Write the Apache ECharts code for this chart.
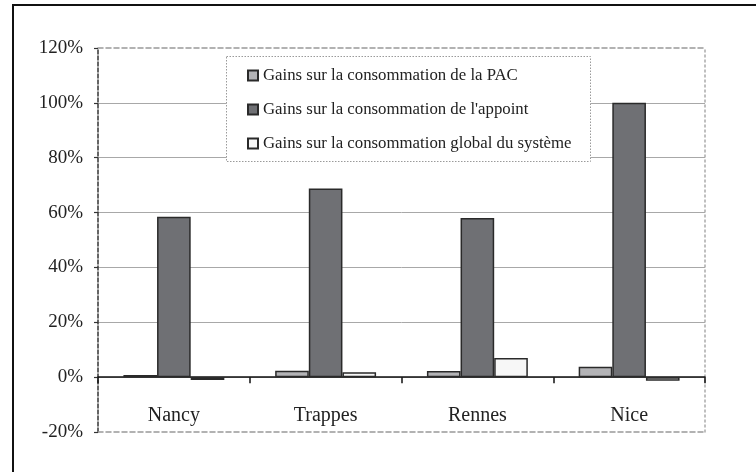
<!DOCTYPE html>
<html>
<head>
<meta charset="utf-8">
<script src="https://cdn.jsdelivr.net/npm/echarts@6/dist/echarts.min.js"></script>
<style>
html,body{margin:0;padding:0;background:#fff;}
#chart{width:756px;height:472px;}
</style>
</head>
<body>
<div id="chart"></div>
<script>
const categories = ['Nancy', 'Trappes', 'Rennes', 'Nice'];
const seriesNames = [
  'Gains sur la consommation de la PAC',
  "Gains sur la consommation de l'appoint",
  'Gains sur la consommation global du système'
];
const gainsPAC = [0.8, 2.3, 2.2, 3.8];
const gainsAppoint = [58.5, 68.8, 58.0, 100.0];
const gainsGlobal = [-1.0, 1.8, 7.0, -1.3];
const yTicks = { min: -20, max: 120, interval: 20 };

const FONT = 'Liberation Serif';
const colors = ['#b3b3b6', '#6f7074', '#f7f7f7'];
const values = [gainsPAC, gainsAppoint, gainsGlobal];

const chart = echarts.init(document.getElementById('chart'), null, { renderer: 'canvas' });

chart.setOption({
  animation: false,
  backgroundColor: '#ffffff',
  grid: { left: 98, right: 51, top: 48, bottom: 40, containLabel: false },
  legend: {
    orient: 'vertical',
    left: 247,
    top: 67,
    padding: 0,
    itemGap: 17,
    itemWidth: 10,
    itemHeight: 10,
    icon: 'rect',
    textStyle: { fontFamily: FONT, fontSize: 16.8, color: '#222' },
    data: seriesNames
  },
  graphic: {
    elements: [
      {
        type: 'rect', z: 3, silent: true,
        shape: { x: 226.5, y: 56.5, width: 364, height: 105 },
        style: { fill: '#ffffff', stroke: '#9a9a9a', lineWidth: 1, lineDash: [1.5, 1.5] }
      },
      {
        type: 'rect', z: 10, silent: true,
        shape: { x: 13, y: 5, width: 900, height: 600 },
        style: { fill: 'none', stroke: '#111', lineWidth: 2 }
      }
    ]
  },
  xAxis: [
    {
      type: 'category',
      data: categories,
      position: 'bottom',
      boundaryGap: true,
      axisLine: { show: true, onZero: true, lineStyle: { color: '#111', width: 1.5 } },
      axisTick: { show: true, length: 6, inside: false, lineStyle: { color: '#111', width: 1.5 } },
      axisLabel: { fontFamily: FONT, fontSize: 20, color: '#222', margin: -26 },
      splitLine: { show: false }
    },
    {
      type: 'category',
      data: categories,
      position: 'top',
      axisLine: { show: true, onZero: false, lineStyle: { color: '#999', width: 1.5, type: [5, 3] } },
      axisTick: { show: false },
      axisLabel: { show: false },
      splitLine: { show: false }
    },
    {
      type: 'category',
      data: categories,
      position: 'bottom',
      axisLine: { show: true, onZero: false, lineStyle: { color: '#999', width: 1.5, type: [5, 3] } },
      axisTick: { show: false },
      axisLabel: { show: false },
      splitLine: { show: false }
    }
  ],
  yAxis: [
    {
      type: 'value',
      position: 'left',
      min: yTicks.min,
      max: yTicks.max,
      interval: yTicks.interval,
      axisLine: { show: true, onZero: false, lineStyle: { color: '#333', width: 1.5, type: [4, 2] } },
      axisTick: { show: true, length: 4, inside: false, lineStyle: { color: '#333', width: 1.2 } },
      axisLabel: { fontFamily: FONT, fontSize: 19, color: '#222', margin: 15, formatter: '{value}%' },
      splitLine: { show: true, showMinLine: false, showMaxLine: false, lineStyle: { color: '#a8a8a8', width: 1 } }
    },
    {
      type: 'value',
      position: 'right',
      min: yTicks.min,
      max: yTicks.max,
      interval: yTicks.interval,
      axisLine: { show: true, onZero: false, lineStyle: { color: '#aaa', width: 1.5, type: [2, 3] } },
      axisTick: { show: false },
      axisLabel: { show: false },
      splitLine: { show: false }
    }
  ],
  series: seriesNames.map((name, i) => ({
    name: name,
    type: 'bar',
    xAxisIndex: 0,
    yAxisIndex: 0,
    data: values[i],
    barGap: '0%',
    barCategoryGap: '33.5%',
    itemStyle: { color: colors[i], borderColor: '#2a2a2a', borderWidth: 1.5 },
    emphasis: { disabled: true }
  }))
});
</script>
</body>
</html>
